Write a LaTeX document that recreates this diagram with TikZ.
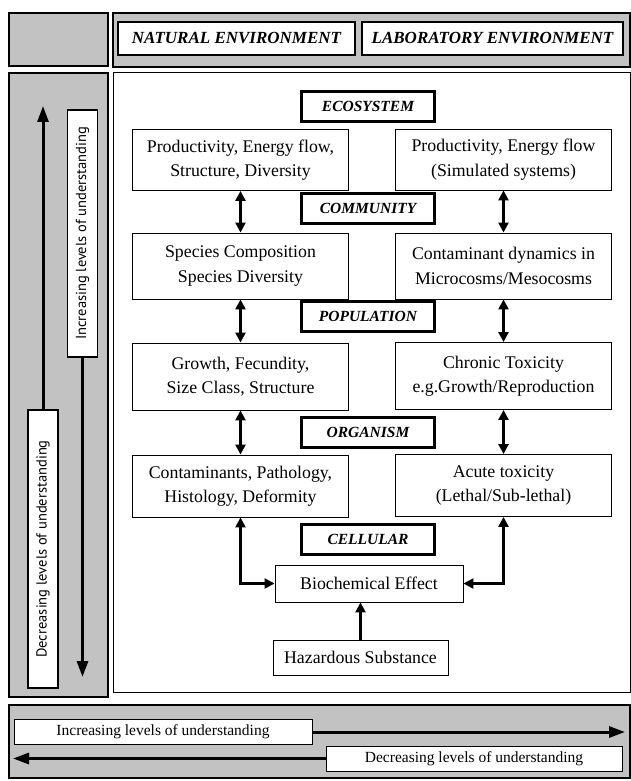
\documentclass[tikz,border=0pt]{standalone}
\usepackage{fontspec}
\setmainfont{Liberation Serif}
\newfontfamily\sidefont{PT Sans}
\usetikzlibrary{arrows.meta}
\definecolor{halftone}{gray}{0.76}

\tikzset{
  graypanel/.style={draw, line width=1.1pt, fill=halftone},
  envbox/.style={draw, line width=2.6pt, fill=white, minimum height=33pt, inner sep=0pt, font=\fontsize{17}{20}\selectfont\bfseries\itshape},
  levelbox/.style={draw, line width=2.6pt, fill=white, minimum width=133pt, minimum height=30pt, inner sep=0pt, font=\fontsize{15.5}{18}\selectfont\bfseries\itshape},
  factbox/.style={draw, line width=0.9pt, fill=white, minimum width=216pt, inner sep=0pt, align=center, font=\fontsize{17.8}{24.5}\selectfont},
  sidebox/.style={draw, line width=1.1pt, fill=white, rotate=90, minimum height=30pt, inner sep=0pt, font=\fontsize{14.5}{17}\selectfont\sidefont},
  rowbox/.style={draw, line width=0.9pt, fill=white, minimum height=25pt, inner sep=0pt, font=\fontsize{15.5}{18}\selectfont},
  linkarrow/.style={{Triangle[length=10pt,width=10pt]}-{Triangle[length=10pt,width=10pt]}, line width=2.4pt},
  onearrow/.style={-{Triangle[length=10pt,width=10pt]}, line width=2.4pt},
  scalearrow/.style={-{Triangle[length=16pt,width=11pt]}, line width=3pt}
}

\begin{document}
\begin{tikzpicture}[x=1pt, y=-1pt]
  \useasboundingbox (0,0) rectangle (631,781);
  % panels
  \draw[graypanel] (9,13) rectangle (108,66);
  \draw[graypanel] (113,13) rectangle (630,67);
  \draw[graypanel] (9,73) rectangle (108,697);
  \draw[line width=0.9pt, fill=white] (113,72) rectangle (630,692);
  \draw[graypanel] (9,705) rectangle (630,778);

  \node[envbox, minimum width=237pt] (natural) at (236.5,38.5) {NATURAL ENVIRONMENT};
  \node[envbox, minimum width=261pt] (laboratory) at (492.5,38.5) {LABORATORY ENVIRONMENT};

  % levels of organisation
  \node[levelbox] (ecosystem) at (368,106.5) {ECOSYSTEM};
  \node[levelbox] (community) at (368,208.5) {COMMUNITY};
  \node[levelbox] (population) at (368,316.5) {POPULATION};
  \node[levelbox] (organism) at (368,432.5) {ORGANISM};
  \node[levelbox] (cellular) at (368,539.5) {CELLULAR};

  % natural environment column
  \node[factbox, minimum height=61pt] (nat1) at (240.5,160) {Productivity, Energy flow,\\Structure, Diversity};
  \node[factbox, minimum height=66pt] (nat2) at (240.5,266) {Species Composition\\Species Diversity};
  \node[factbox, minimum height=67pt] (nat3) at (240.5,376.5) {Growth, Fecundity,\\Size Class, Structure};
  \node[factbox, minimum height=62pt] (nat4) at (240.5,486) {Contaminants, Pathology,\\Histology, Deformity};

  % laboratory environment column
  \node[factbox, minimum height=61pt] (lab1) at (503.5,159.5) {Productivity, Energy flow\\(Simulated systems)};
  \node[factbox, minimum height=66pt] (lab2) at (503.5,266) {Contaminant dynamics in\\Microcosms/Mesocosms};
  \node[factbox, minimum height=67pt] (lab3) at (503.5,376) {Chronic Toxicity\\e.g.Growth/Reproduction};
  \node[factbox, minimum height=62pt] (lab4) at (503.5,485.5) {Acute toxicity\\(Lethal/Sub-lethal)};

  \node[factbox, minimum width=188pt, minimum height=37pt] (biochem) at (369,583.5) {Biochemical Effect};
  \node[factbox, minimum width=175pt, minimum height=35pt] (hazard) at (360.5,657.5) {Hazardous Substance};

  \draw[linkarrow] (nat1) -- (nat2);
  \draw[linkarrow] (nat2) -- (nat3);
  \draw[linkarrow] (nat3) -- (nat4);
  \draw[linkarrow] (lab1) -- (lab2);
  \draw[linkarrow] (lab2) -- (lab3);
  \draw[linkarrow] (lab3) -- (lab4);
  \draw[linkarrow] (nat4.south) |- (biochem.west);
  \draw[linkarrow] (lab4.south) |- (biochem.east);
  \draw[onearrow] (hazard.north) -- (hazard.north |- biochem.south);

  % side scale
  \coordinate (uptip) at (43,106);
  \coordinate (downtip) at (82.5,677);
  \draw[scalearrow] (43,549) -- (uptip);
  \draw[scalearrow] (82.5,233.5) -- (downtip);
  \node[sidebox, minimum width=247pt] (sideup) at (82.5,233.5) {Increasing levels of understanding};
  \node[sidebox, minimum width=278pt] (sidedown) at (43,549) {Decreasing levels of understanding};

  % bottom scale
  \coordinate (rightend) at (625,732);
  \coordinate (leftend) at (13,758.5);
  \node[rowbox, minimum width=298pt] (rowup) at (163,732) {Increasing levels of understanding};
  \node[rowbox, minimum width=296pt] (rowdown) at (474,758.5) {Decreasing levels of understanding};
  \draw[scalearrow] (rowup) -- (rightend);
  \draw[scalearrow] (rowdown) -- (leftend);
\end{tikzpicture}
\end{document}
